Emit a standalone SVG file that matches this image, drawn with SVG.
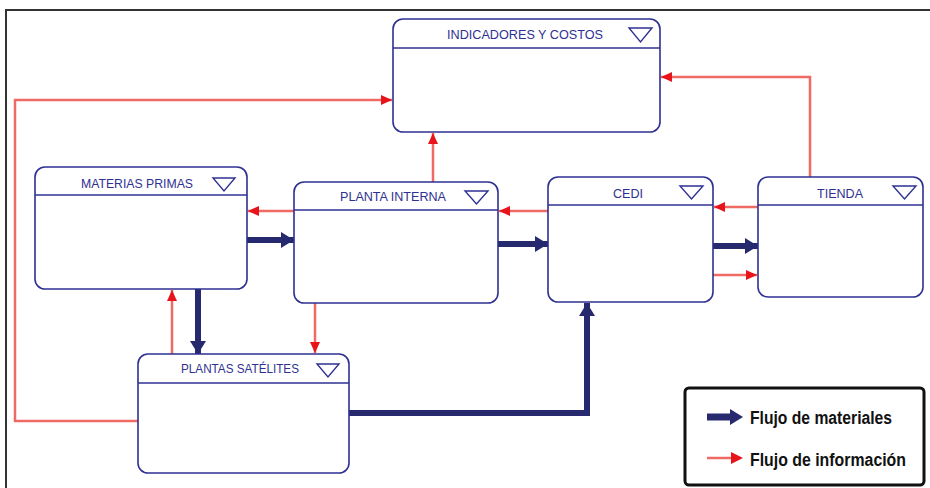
<svg xmlns="http://www.w3.org/2000/svg" width="930" height="488" viewBox="0 0 930 488">
<defs>
<style>
.node rect{fill:#fff;stroke:#2e3192;stroke-width:1.6}
.node line{stroke:#2e3192;stroke-width:1.6}
.node polygon{fill:none;stroke:#2e3192;stroke-width:1.4}
.node text{font-family:"Liberation Sans",Arial,sans-serif;font-size:13px;fill:#2e3192;text-anchor:middle}
.info{fill:none;stroke:#f06a64;stroke-width:2.5}
.mat{fill:none;stroke:#27296f;stroke-width:6}
.leg{font-family:"Liberation Sans",Arial,sans-serif;font-size:18px;font-weight:bold;fill:#111}
</style>
<marker id="ar" markerUnits="userSpaceOnUse" markerWidth="12" markerHeight="12" refX="11" refY="6" orient="auto">
<path d="M0,1 L11,6 L0,11 Z" fill="#e8141b"/>
</marker>
<marker id="am" markerUnits="userSpaceOnUse" markerWidth="14" markerHeight="18" refX="13" refY="9" orient="auto">
<path d="M0,1 L13,9 L0,17 Z" fill="#27296f"/>
</marker>
</defs>
<rect width="930" height="488" fill="#fff"/>
<path d="M6,488 L6,10 L930,10" fill="none" stroke="#333" stroke-width="2"/>

<g id="connectors">
<polyline class="info" points="138,421 15,421 15,100 392,100" marker-end="url(#ar)"/>
<polyline class="info" points="810,177 810,77 661,77" marker-end="url(#ar)"/>
<line class="info" x1="433" y1="182" x2="433" y2="133" marker-end="url(#ar)"/>
<line class="info" x1="294" y1="211" x2="248" y2="211" marker-end="url(#ar)"/>
<line class="info" x1="548" y1="211" x2="499" y2="211" marker-end="url(#ar)"/>
<line class="info" x1="758" y1="207" x2="714" y2="207" marker-end="url(#ar)"/>
<line class="info" x1="713" y1="275" x2="757" y2="275" marker-end="url(#ar)"/>
<line class="info" x1="172" y1="354" x2="172" y2="290" marker-end="url(#ar)"/>
<line class="info" x1="315" y1="303" x2="315" y2="353" marker-end="url(#ar)"/>
<line class="mat" x1="247" y1="240" x2="294" y2="240" marker-end="url(#am)"/>
<line class="mat" x1="498" y1="244" x2="548" y2="244" marker-end="url(#am)"/>
<line class="mat" x1="713" y1="246" x2="758" y2="246" marker-end="url(#am)"/>
<line class="mat" x1="198" y1="289" x2="198" y2="354" marker-end="url(#am)"/>
<polyline class="mat" points="349,413 587,413 587,303" marker-end="url(#am)"/>
</g>

<g id="indicadores" class="node">
<rect x="393" y="19" width="267" height="113" rx="10"/>
<line x1="393" y1="48" x2="660" y2="48"/>
<text x="525" y="39" textLength="156" lengthAdjust="spacingAndGlyphs">INDICADORES Y COSTOS</text>
<polygon points="629,28 652,28 640.5,42"/>
</g>

<g id="materias" class="node">
<rect x="35" y="167" width="212" height="122" rx="10"/>
<line x1="35" y1="195" x2="247" y2="195"/>
<text x="137" y="188" textLength="112" lengthAdjust="spacingAndGlyphs">MATERIAS PRIMAS</text>
<polygon points="213,178 235,178 224,191"/>
</g>

<g id="planta" class="node">
<rect x="294" y="182" width="204" height="121" rx="10"/>
<line x1="294" y1="210" x2="498" y2="210"/>
<text x="393" y="201" textLength="106" lengthAdjust="spacingAndGlyphs">PLANTA INTERNA</text>
<polygon points="465,191 488,191 476.5,204"/>
</g>

<g id="cedi" class="node">
<rect x="548" y="177" width="165" height="125" rx="10"/>
<line x1="548" y1="205" x2="713" y2="205"/>
<text x="628" y="198" textLength="30" lengthAdjust="spacingAndGlyphs">CEDI</text>
<polygon points="680,186 703,186 691.5,199"/>
</g>

<g id="tienda" class="node">
<rect x="758" y="177" width="165" height="120" rx="10"/>
<line x1="758" y1="205" x2="923" y2="205"/>
<text x="840" y="198" textLength="46" lengthAdjust="spacingAndGlyphs">TIENDA</text>
<polygon points="893,186 916,186 904.5,199"/>
</g>

<g id="satelites" class="node">
<rect x="138" y="354" width="211" height="119" rx="10"/>
<line x1="138" y1="383" x2="349" y2="383"/>
<text x="240" y="373" textLength="118" lengthAdjust="spacingAndGlyphs">PLANTAS SATÉLITES</text>
<polygon points="317,364 339,364 328,377"/>
</g>

<g id="legend">
<rect x="685" y="388" width="239" height="97" rx="4" fill="#fff" stroke="#111" stroke-width="3"/>
<line x1="707" y1="417" x2="731" y2="417" stroke="#27296f" stroke-width="7"/>
<path d="M730,409 L743,417 L730,425 Z" fill="#27296f"/>
<text class="leg" x="750" y="424" textLength="142" lengthAdjust="spacingAndGlyphs">Flujo de materiales</text>
<line x1="707" y1="458" x2="732" y2="458" stroke="#f06a64" stroke-width="2.5"/>
<path d="M731,452 L743,458 L731,464 Z" fill="#e8141b"/>
<text class="leg" x="750" y="466" textLength="156" lengthAdjust="spacingAndGlyphs">Flujo de información</text>
</g>
</svg>
